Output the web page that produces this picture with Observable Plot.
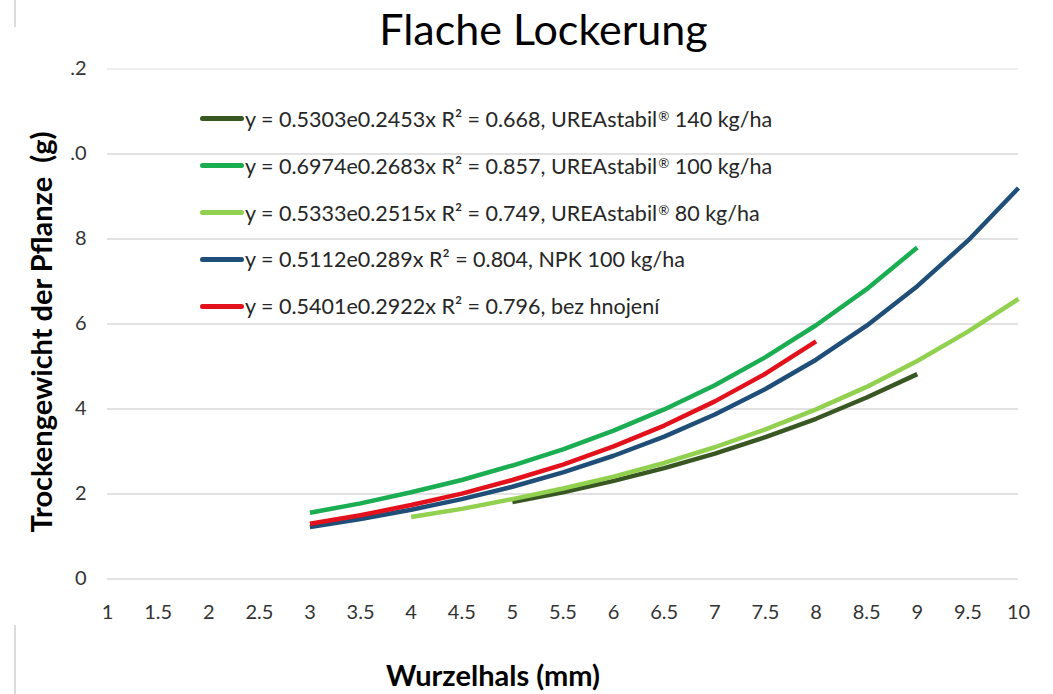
<!DOCTYPE html>
<html>
<head>
<meta charset="utf-8">
<script src="https://cdn.jsdelivr.net/npm/d3@7"></script>
<script src="https://cdn.jsdelivr.net/npm/@observablehq/plot@0.6"></script>
<style>
  body { margin: 0; background: #fff; font-family: Lato, "Open Sans", sans-serif; }
  #wrap { position: relative; width: 1053px; height: 694px; overflow: hidden; background: #fff; }
  #title { height: 50px; line-height: 57px; text-align: center; font-size: 43px; color: #000; padding-left: 34px; box-sizing: border-box; width: 1053px; white-space: nowrap; }
  #chart { height: 644px; }
  #legend { position: absolute; left: 200px; top: 0; }
  .row { position: absolute; left: 0; white-space: nowrap; display: flex; align-items: center; height: 30px; }
  .swatch { width: 44px; height: 5px; border-radius: 3px; margin-right: 1px; flex: none; }
  .label { font-size: 21.5px; color: #262626; }
  .reg { font-size: 0.62em; position: relative; top: -0.45em; margin-left: 1px; }
  .edge { position: absolute; left: 14px; width: 2px; background: #dcdcdc; }
</style>
</head>
<body>
<div id="wrap">
  <div class="edge" style="top:0;height:27px"></div>
  <div class="edge" style="top:625px;height:69px"></div>
  <div id="title">Flache Lockerung</div>
  <div id="chart"></div>
  <div id="legend"></div>
</div>
<script>
// Root-collar diameter categories (mm)
const xCategories = [1, 1.5, 2, 2.5, 3, 3.5, 4, 4.5, 5, 5.5, 6, 6.5, 7, 7.5, 8, 8.5, 9, 9.5, 10];

// Dry weight per plant (g), one value per category, null where the series has no point
const urea140 = [null, null, null, null, null, null, null, null, 1.81, 2.04, 2.31, 2.61, 2.95, 3.34, 3.77, 4.27, 4.82, null, null];
const urea100 = [null, null, null, null, 1.56, 1.78, 2.04, 2.33, 2.67, 3.05, 3.49, 3.99, 4.56, 5.22, 5.97, 6.82, 7.80, null, null];
const urea80  = [null, null, null, null, null, null, 1.46, 1.65, 1.88, 2.13, 2.41, 2.73, 3.10, 3.52, 3.99, 4.52, 5.13, 5.82, 6.59];
const npk100  = [null, null, null, null, 1.22, 1.41, 1.63, 1.88, 2.17, 2.51, 2.90, 3.35, 3.87, 4.47, 5.16, 5.96, 6.89, 7.96, 9.20];
const control = [null, null, null, null, 1.30, 1.50, 1.74, 2.01, 2.33, 2.69, 3.12, 3.61, 4.18, 4.83, 5.59, null, null, null, null];

const seriesNames = [
  "y = 0.5303e0.2453x R² = 0.668, UREAstabil® 140 kg/ha",
  "y = 0.6974e0.2683x R² = 0.857, UREAstabil® 100 kg/ha",
  "y = 0.5333e0.2515x R² = 0.749, UREAstabil® 80 kg/ha",
  "y = 0.5112e0.289x R² = 0.804, NPK 100 kg/ha",
  "y = 0.5401e0.2922x R² = 0.796, bez hnojení"
];
const seriesValues = [urea140, urea100, urea80, npk100, control];
const seriesColors = ["#385723", "#1aad52", "#92d050", "#1f4e79", "#e3111b"];

const yTicks = [0, 2, 4, 6, 8, 10, 12];
const yTickLabels = ["0", "2", "4", "6", "8", ".0", ".2"];

const xTitle = "Wurzelhals (mm)";
const yTitle = "Trockengewicht der Pflanze  (g)";

// Long-format table for the line mark
const rows = [];
seriesValues.forEach((vals, i) => {
  vals.forEach((v, j) => {
    if (v != null) rows.push({series: seriesNames[i], x: xCategories[j], y: v});
  });
});

const chart = Plot.plot({
  width: 1053,
  height: 644,
  marginTop: 18.5,
  marginBottom: 115.5,
  marginLeft: 107,
  marginRight: 35,
  style: {fontFamily: "Lato, 'Open Sans', sans-serif", background: "#fff"},
  x: {type: "linear", domain: [1, 10]},
  y: {domain: [0, 12]},
  color: {domain: seriesNames, range: seriesColors},
  marks: [
    Plot.ruleY(yTicks.filter(d => d < 12), {stroke: "#d9d9d9", strokeWidth: 1.3}),
    Plot.ruleY([12], {stroke: "#e8e8e8", strokeWidth: 1.3}),
    Plot.axisX(xCategories, {label: null, tickSize: 0, tickPadding: 26, fontSize: 20, fill: "#333", tickFormat: d => String(d)}),
    Plot.axisY(yTicks, {label: null, tickSize: 0, tickPadding: 21, fontSize: 20, fill: "#333", tickFormat: d => yTickLabels[yTicks.indexOf(d)]}),
    Plot.line(rows, {x: "x", y: "y", z: "series", stroke: "series", strokeWidth: 4.5, strokeLinejoin: "round", strokeLinecap: "butt"}),
    Plot.text([xTitle], {frameAnchor: "bottom", lineAnchor: "middle", textAnchor: "middle", dy: 98, dx: -70, fontSize: 29, fontWeight: "bold", fill: "#000"}),
    Plot.text([yTitle], {frameAnchor: "left", lineAnchor: "middle", textAnchor: "middle", dx: -65, dy: 8, rotate: -90, fontSize: 29, fontWeight: "bold", fill: "#000"})
  ]
});
document.getElementById("chart").appendChild(chart);

// Legend rows drawn over the plot area
const legend = document.getElementById("legend");
const rowCenters = [118.5, 165.5, 212.5, 259, 306];
seriesNames.forEach((name, i) => {
  const row = document.createElement("div");
  row.className = "row";
  row.style.top = (rowCenters[i] - 15) + "px";
  const sw = document.createElement("div");
  sw.className = "swatch";
  sw.style.background = seriesColors[i];
  const lab = document.createElement("span");
  lab.className = "label";
  name.split("®").forEach((part, k) => {
    if (k > 0) {
      const r = document.createElement("span");
      r.className = "reg";
      r.textContent = "®";
      lab.appendChild(r);
    }
    lab.appendChild(document.createTextNode(part));
  });
  row.appendChild(sw);
  row.appendChild(lab);
  legend.appendChild(row);
});
</script>
</body>
</html>
